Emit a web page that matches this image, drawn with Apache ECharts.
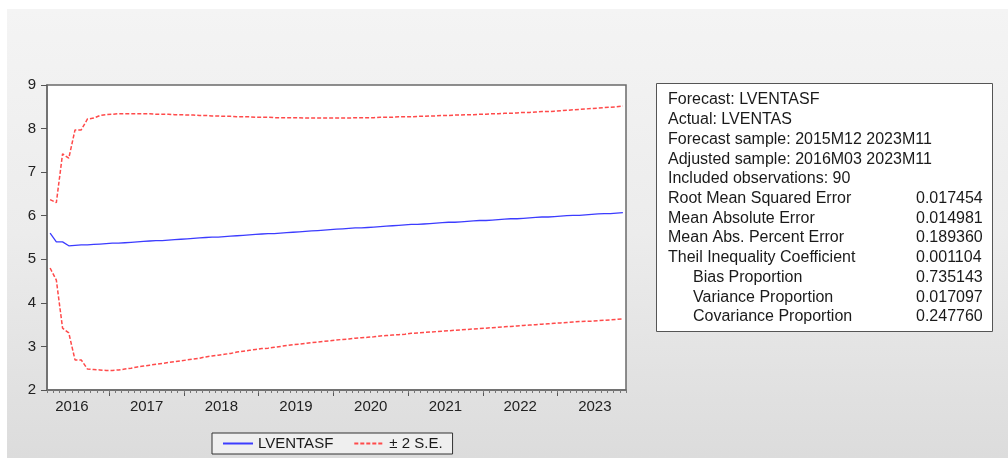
<!DOCTYPE html>
<html>
<head>
<meta charset="utf-8">
<script src="https://cdn.jsdelivr.net/npm/echarts@6/dist/echarts.min.js"></script>
<style>
  html, body { margin: 0; padding: 0; background: #ffffff; }
  #bg { position: absolute; left: 7px; top: 9px; width: 1001px; height: 449px;
        background: linear-gradient(to bottom, #f4f4f4 0%, #ececec 50%, #dcdcdc 100%); }
  #chart { position: absolute; left: 0; top: 0; width: 1008px; height: 458px; }
</style>
</head>
<body>
<div id="bg"></div>
<div id="chart"></div>
<script>
// Month index: 0 = 2016M01. Sample starts 2016M03.
const startMonth = 2;
const yearLabels = ['2016', '2017', '2018', '2019', '2020', '2021', '2022', '2023'];

// LVENTASF forecast (2016M03 .. 2023M11)
const forecast = [
  5.60, 5.40, 5.40, 5.31, 5.32, 5.33, 5.33, 5.34, 5.35, 5.36,
  5.37, 5.37, 5.38, 5.39, 5.40, 5.41, 5.42, 5.43, 5.43, 5.44,
  5.45, 5.46, 5.47, 5.48, 5.49, 5.50, 5.51, 5.51, 5.52, 5.53,
  5.54, 5.55, 5.56, 5.57, 5.58, 5.59, 5.59, 5.60, 5.61, 5.62,
  5.63, 5.64, 5.65, 5.66, 5.67, 5.68, 5.69, 5.70, 5.71, 5.72,
  5.72, 5.73, 5.74, 5.75, 5.76, 5.77, 5.78, 5.79, 5.80, 5.80,
  5.81, 5.82, 5.83, 5.84, 5.85, 5.85, 5.86, 5.87, 5.88, 5.89,
  5.89, 5.90, 5.91, 5.92, 5.93, 5.93, 5.94, 5.95, 5.96, 5.97,
  5.97, 5.98, 5.99, 6.00, 6.01, 6.01, 6.02, 6.03, 6.04, 6.05,
  6.05, 6.06, 6.07
];

// +2 S.E. band
const upperBand = [
  6.37, 6.30, 7.42, 7.32, 7.97, 7.97, 8.22, 8.24, 8.30, 8.32,
  8.33, 8.34, 8.34, 8.34, 8.34, 8.34, 8.34, 8.33, 8.33, 8.33,
  8.32, 8.32, 8.31, 8.31, 8.30, 8.30, 8.29, 8.29, 8.28, 8.28,
  8.27, 8.27, 8.27, 8.26, 8.26, 8.26, 8.25, 8.25, 8.25, 8.25,
  8.25, 8.24, 8.24, 8.24, 8.24, 8.24, 8.24, 8.24, 8.24, 8.25,
  8.25, 8.25, 8.25, 8.26, 8.26, 8.26, 8.27, 8.27, 8.27, 8.28,
  8.28, 8.29, 8.29, 8.30, 8.30, 8.31, 8.31, 8.32, 8.32, 8.33,
  8.33, 8.34, 8.34, 8.35, 8.35, 8.36, 8.37, 8.37, 8.38, 8.39,
  8.39, 8.40, 8.41, 8.42, 8.43, 8.44, 8.45, 8.46, 8.47, 8.48,
  8.49, 8.50, 8.52
];

// -2 S.E. band
const lowerBand = [
  4.80, 4.52, 3.42, 3.31, 2.69, 2.69, 2.48, 2.47, 2.46, 2.45,
  2.45, 2.46, 2.48, 2.50, 2.53, 2.55, 2.57, 2.59, 2.61, 2.63,
  2.65, 2.67, 2.69, 2.71, 2.73, 2.76, 2.78, 2.80, 2.82, 2.84,
  2.87, 2.89, 2.91, 2.93, 2.95, 2.96, 2.98, 3.00, 3.02, 3.04,
  3.05, 3.07, 3.09, 3.10, 3.12, 3.13, 3.15, 3.16, 3.17, 3.19,
  3.20, 3.21, 3.22, 3.24, 3.25, 3.26, 3.27, 3.28, 3.30, 3.31,
  3.32, 3.33, 3.34, 3.35, 3.36, 3.37, 3.38, 3.39, 3.40, 3.41,
  3.42, 3.43, 3.44, 3.45, 3.46, 3.47, 3.48, 3.49, 3.50, 3.51,
  3.52, 3.53, 3.54, 3.55, 3.56, 3.57, 3.58, 3.58, 3.59, 3.60,
  3.61, 3.62, 3.63
];

// Forecast evaluation table
const statLabels = [
  'Forecast: LVENTASF',
  'Actual: LVENTAS',
  'Forecast sample: 2015M12 2023M11',
  'Adjusted sample: 2016M03 2023M11',
  'Included observations: 90',
  'Root Mean Squared Error',
  'Mean Absolute Error',
  'Mean Abs. Percent Error',
  'Theil Inequality Coefficient',
  'Bias Proportion',
  'Variance Proportion',
  'Covariance Proportion'
];
const statValues = ['', '', '', '', '', '0.017454', '0.014981', '0.189360', '0.001104', '0.735143', '0.017097', '0.247760'];
const statIndented = [false, false, false, false, false, false, false, false, false, true, true, true];

const FONT = "'Liberation Sans', Arial, sans-serif";

function pairs(arr) { return arr.map((v, i) => [startMonth + i, v]); }

const majorTicks = [], yearPos = [], minorTicks = [];
for (let k = 1; k < yearLabels.length; k++) majorTicks.push(12 * k - 0.5);
for (let k = 0; k < yearLabels.length; k++) yearPos.push(12 * k + 5.5);
for (let m = 1; m <= 94; m++) minorTicks.push(m + 0.5);

const XMIN = 1.5, XMAX = 94.5;

const graphics = [{
  type: 'rect',
  shape: { x: 656.5, y: 83.5, width: 336, height: 248 },
  style: { fill: '#ffffff', stroke: '#555555', lineWidth: 1 },
  z: 10
}];
statLabels.forEach((lab, i) => {
  const y = 100 + i * 19.72;
  graphics.push({
    type: 'text', x: statIndented[i] ? 693 : 668, y: y, z: 11,
    style: { text: lab, font: '16px ' + FONT, fill: '#1a1a1a', textVerticalAlign: 'middle', verticalAlign: 'middle' }
  });
  if (statValues[i]) {
    graphics.push({
      type: 'text', x: 916, y: y, z: 11,
      style: { text: statValues[i], font: '16px ' + FONT, fill: '#1a1a1a', textVerticalAlign: 'middle', verticalAlign: 'middle' }
    });
  }
});

const chart = echarts.init(document.getElementById('chart'), null, { renderer: 'canvas' });
chart.setOption({
  animation: false,
  backgroundColor: 'transparent',
  grid: {
    left: 47, top: 85, right: 382, bottom: 68,
    show: true, backgroundColor: '#ffffff', borderColor: '#6a6a6a', borderWidth: 1.5
  },
  xAxis: [{
    type: 'value', min: XMIN, max: XMAX,
    axisLine: { show: true, onZero: false, lineStyle: { color: '#6a6a6a', width: 1.5 } },
    axisTick: { show: true, customValues: majorTicks, length: 6, lineStyle: { color: '#555' } },
    axisLabel: {
      show: true, customValues: yearPos, margin: 9,
      fontSize: 15, fontFamily: FONT, color: '#222',
      formatter: function (v) { return yearLabels[Math.round((v - 5.5) / 12)]; }
    },
    splitLine: { show: false }
  }, {
    type: 'value', min: XMIN, max: XMAX, position: 'bottom',
    axisLine: { show: false },
    axisTick: { show: true, customValues: minorTicks, length: 3, lineStyle: { color: '#777' } },
    axisLabel: { show: false },
    splitLine: { show: false }
  }],
  yAxis: {
    type: 'value', min: 2, max: 9, interval: 1,
    axisLine: { show: true, lineStyle: { color: '#6a6a6a', width: 1.5 } },
    axisTick: { show: true, length: 6, lineStyle: { color: '#555' } },
    axisLabel: { fontSize: 15, fontFamily: FONT, color: '#222', margin: 11 },
    splitLine: { show: false }
  },
  legend: {
    left: 212, top: 433, width: 246, height: 23,
    padding: [3, 10, 3, 10],
    itemWidth: 30, itemHeight: 10, itemGap: 20,
    borderColor: '#333', borderWidth: 1, backgroundColor: '#efefef',
    itemStyle: { opacity: 0, borderWidth: 0 },
    textStyle: { fontSize: 15, fontFamily: FONT, color: '#1a1a1a' },
    data: ['LVENTASF', '± 2 S.E.']
  },
  series: [{
    name: 'LVENTASF', type: 'line', data: pairs(forecast),
    showSymbol: false, symbol: 'none',
    lineStyle: { color: '#3c3cff', width: 1.3 },
    itemStyle: { color: '#3c3cff' }, z: 3
  }, {
    name: '± 2 S.E.', type: 'line', data: pairs(upperBand),
    showSymbol: false, symbol: 'none',
    lineStyle: { color: '#ff4a4a', width: 1.5, type: [4, 2] },
    itemStyle: { color: '#ff4a4a' }
  }, {
    name: '± 2 S.E.', type: 'line', data: pairs(lowerBand),
    showSymbol: false, symbol: 'none',
    lineStyle: { color: '#ff4a4a', width: 1.5, type: [4, 2] },
    itemStyle: { color: '#ff4a4a' }
  }],
  graphic: graphics
});
</script>
</body>
</html>
